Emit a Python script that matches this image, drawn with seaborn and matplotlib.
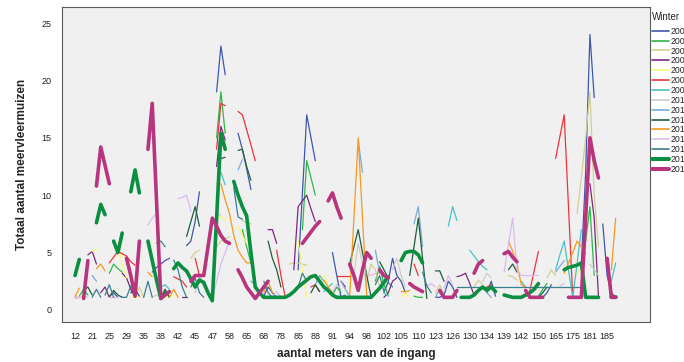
import numpy as np
import pandas as pd
import seaborn as sns
import matplotlib.pyplot as plt
from matplotlib.lines import Line2D

# x axis: SPSS only labels every 4th distance category
tick_labels = [12, 21, 25, 29, 35, 38, 42, 45, 47, 58, 65, 68, 78, 85, 88, 91,
               94, 98, 102, 105, 110, 123, 126, 130, 134, 139, 142, 150, 165, 175, 181, 185]
n_categories = 127

winters = list(range(2003, 2018))

# runs of consecutive non-missing counts per winter: {first category index: [counts]}
w2003 = {8: [1.2, 1.5, 1.1], 18: [3.3, 3.7, 4.0, 4.3, 4.5], 26: [5.6, 6.0, 7.7, 10.3],
         33: [19, 23, 20.5], 38: [15.4, 14.0, 12.3, 10.5], 44: [1.2, 2.0, 1.5, 1.1],
         52: [3.5, 10.2, 17, 15, 13], 60: [5, 3, 1.1], 72: [1.5, 2.5, 4.5, 3, 2.5, 1.5],
         84: [1.1, 1.1, 1.3, 2.5, 2.0, 1.1], 96: [1.5, 2.5, 1.2], 108: [1.1, 1.1, 1.5, 2.2],
         118: [4, 12, 24, 18.5], 123: [7.5, 3, 1.5, 1.1]}
w2004 = {1: [1.2, 1.8, 1.3], 8: [3.2, 4.0, 3.6, 3.3], 33: [15, 19, 15.4], 39: [7.0, 5.5, 4.1],
         53: [7, 13, 11.5, 10], 60: [1.3, 2.0, 1.5], 70: [2.5, 3.8, 2.2, 1.3],
         79: [1.2, 1.1, 1.1], 90: [1.1, 1.1, 1.2], 108: [1.2, 1.8, 2.3], 119: [6, 9, 3]}
w2005 = {14: [1.2, 2.0, 1.1], 27: [4.5, 5.0, 5.2], 33: [5.5, 6.0, 6.2, 6.4], 39: [7.8, 7.6, 7.5],
         50: [4.0, 4.1, 4.1, 4.0, 3.9], 68: [2.5, 4.0, 3.5, 2.0], 84: [1.5, 2.2, 1.3],
         93: [2.0, 2.6, 2.2], 101: [3.0, 2.9, 2.6], 110: [2.8, 3.5, 3.0],
         117: [8.4, 11.5, 15, 19, 10, 5.5]}
w2006 = {3: [4.8, 5.1, 4.0], 6: [1.5, 2.0, 1.1], 11: [3.2, 2.8, 1.8, 1.1], 25: [1.1, 1.1],
         33: [12.5, 16, 14.8], 45: [7.0, 7.0, 5.8], 51: [3.5, 9, 9.5, 10, 8.8, 7.7],
         62: [2.5, 2.0], 72: [1.1, 1.5, 2.5, 2.8], 89: [2.9, 3.0, 3.2, 2.3, 1.3],
         104: [1.1, 1.2], 120: [11, 8, 1.1]}
w2007 = {4: [5.1, 5.3], 10: [6.0, 3.9, 2.8], 13: [1.1, 1.1, 1.1], 21: [1.1, 1.1, 1.3],
         33: [8.0, 8.2, 7.8], 38: [7.3, 6.5, 5.8], 52: [6, 3.5, 1.1], 57: [2.5, 3.0, 2.2],
         76: [1.1, 1.5, 1.1], 104: [1.1, 1.2], 117: [3, 4]}
w2008 = {0: [1.1, 1.1], 8: [4.1, 4.6, 5.1, 4.9, 4.7, 4.2, 3.9], 23: [2.9, 2.7, 2.5, 2.0],
         28: [4.5, 3.0], 33: [14, 18, 17.8], 38: [17.3, 17, 15.7, 14.4, 13], 47: [5.2, 3.0, 1.1],
         55: [2.0, 2.2, 1.6], 61: [3, 3, 3, 3], 79: [4, 3], 96: [2.0, 2.2], 106: [1.7, 3.4, 5.1],
         112: [13.2, 15.1, 17, 9, 1.1]}
w2009 = {20: [2.0, 2.2, 1.8], 34: [12, 10.9], 41: [2.5, 2.2, 1.5], 58: [1.6, 2.0, 2.3],
         72: [1.5, 1.2], 87: [7.3, 9, 7.8], 92: [5.2, 4.7, 4.2, 3.8, 3.5], 104: [2.5, 2.0],
         112: [3.5, 4.8, 6, 3.5, 1.1, 4, 7], 125: [2.5, 4.1]}
w2010 = {0: [1.1, 1.1, 1.2, 1.1], 18: [1.1, 1.3, 1.1], 28: [1.5, 3, 2], 33: [8.5, 8.2],
         47: [1.1, 1.1, 1.1], 65: [3, 5.8, 4, 2], 74: [3.5, 4.5, 3.0, 2.0], 95: [2.5, 3.2, 2.8],
         106: [1.2, 1.1], 120: [4, 3.5, 3]}
w2011 = {4: [3.0, 2.5], 20: [1.1, 1.6, 1.1], 38: [12.2, 13.1], 56: [2.2, 3.0, 2.5],
         62: [2.5, 1.8, 1.2], 66: [14.8, 12], 70: [5.2, 3.2], 79: [7.5, 9, 5.5],
         84: [1.1, 1.8, 1.3], 96: [1.5, 1.1], 112: [3.3, 3.8, 4.3]}
w2012 = {2: [1.7, 2.0, 1.3], 8: [1.1, 1.7, 1.3, 1.1], 13: [1.5, 1.8, 1.2], 20: [1.1, 1.8, 1.1],
         26: [6.4, 7.7, 9, 7.3], 34: [13.2, 13.3], 38: [13.9, 14, 12.5, 11.3],
         45: [6.0, 4.5, 3.5, 2.0], 55: [1.5, 2.2, 1.6], 64: [4, 5.5, 7, 5, 3, 1.1],
         71: [4.2, 3.5, 2.8], 78: [3, 5.5, 8, 4.5, 1], 84: [3.4, 3.4, 2.5], 101: [3.5, 4.0, 3.3],
         108: [1.1, 1.5, 2.0]}
w2013 = {0: [1.15, 1.9], 5: [3.6, 4.0, 3.4], 17: [3.3, 2.9], 22: [1.1, 1.8, 1.1],
         34: [11, 9.6, 8.4, 6.5, 5.2, 4.6, 4.1, 4.1], 44: [1.5, 2.5, 1.5], 58: [2.6, 2.0, 1.5, 1.1],
         64: [1.1, 8, 15, 8, 1.1], 76: [1.6, 1.6, 1.7], 90: [1.1, 1.1, 1.1],
         101: [6, 5.1, 4, 2.2, 2], 114: [3.2, 4.1, 5.0, 6.0, 5.5, 4.9], 125: [3.5, 8]}
w2014 = {0: [1.0, 1.1], 8: [1.1, 1.1, 1.1], 17: [7.4, 8.0, 8.4], 24: [9.7, 9.8, 10, 8.6],
         32: [1, 2.5, 4, 5, 6], 46: [1.2, 1.6, 1.1], 60: [1.6, 2.2, 1.8], 68: [3.2, 3.0, 3.2],
         82: [2.1, 2.3, 2.0], 86: [1.9, 3, 2.2], 92: [1.1, 1.2],
         100: [3.3, 5.7, 8, 3.5, 3, 3, 3, 3, 3], 113: [2.1, 2.3]}
w2015 = {4: [1.1, 1.8, 1.1], 7: [1.3, 2.2, 1.1], 11: [1.1, 1.1, 2.1, 1.1], 16: [1.1, 2.5, 1.1],
         19: [5.8, 6.0, 5.5], 23: [4.35, 3.5, 2.0, 1.1], 27: [2.0, 2.8, 1.5, 1.1],
         37: [10.7, 8.1, 7.9], 44: [2.5, 1.5, 1.1], 52: [2.0, 3.2, 2.5], 60: [1.4, 1.1, 1.1, 1.3],
         70: [2.2, 3.0, 1.6, 2.4, 2.0], 81: [3.3, 2.1, 1.5],
         89: [2, 2, 2, 2, 2, 2, 2, 2, 2, 2, 2, 2, 2, 2, 2, 2, 2, 2, 2, 2, 2, 2, 2, 2, 2, 2, 2, 2, 2, 2]}
w2016 = {0: [3.0, 4.4], 5: [7.6, 9.2, 8.3], 9: [6.0, 5.0, 6.7], 13: [10.3, 12.2, 10.2],
         17: [6.0, 4.3, 2.6, 1.0, 1.5],
         23: [3.6, 4.1, 3.7, 3.4, 2.7, 2.0, 2.6, 2.4, 1.5, 0.8, 8.0, 15.4, 14.0],
         37: [11.2, 10, 9, 8.2, 5, 2, 1.5, 1.1, 1.1, 1.1, 1.1, 1.1, 1.1, 1.3, 1.6, 2, 2.3, 2.6,
              2.9, 3, 2.5, 2, 1.7, 1.3, 1.1, 1.1, 1.1, 1.1, 1.1, 1.1, 1.1, 1.1, 1.1, 1.5, 1.9, 2.4, 2.9],
         76: [4.3, 5.0, 5.1, 5.1, 4.8, 4.1],
         90: [1.1, 1.1, 1.1, 1.3, 1.7, 2.0, 1.7, 2.0, 1.6],
         100: [1.3, 1.2, 1.1, 1.1, 1.1, 1.3, 1.5, 1.8, 2.3],
         114: [3.5, 3.7, 3.8, 3.9, 4.1, 1.1, 1.1, 1.1, 1.1], 125: [1.1, 1.1]}
w2017 = {2: [1.0, 4.3], 5: [10.8, 14.2, 12.6, 11.0], 12: [4.5, 3.0, 1.2, 6.0],
         17: [14, 18, 9.5, 1.0, 1.3, 1.6], 27: [2.5, 3, 3, 3, 5.5, 8, 7.3, 6.5, 6.0, 5.8],
         38: [3.5, 2.8, 2.0, 1.5, 1.0, 1.5, 2.0, 2.5], 53: [5.8, 6.3, 6.8, 7.3, 7.7],
         59: [9.5, 10.2, 9.0, 8.0], 64: [4, 3, 1.7, 3.5, 5, 4.5], 71: [3.5, 3.0, 2.8],
         78: [2.3, 2.0, 1.8, 1.6], 85: [1.7, 1.1, 1.1, 1.1, 1.7], 93: [3.2, 4.0, 4.3],
         100: [4.9, 5.1, 4.6, 4.2], 105: [1.7, 1.1, 1.1, 1.1, 1.1],
         115: [1.1, 1.1, 1.1, 1.1, 8, 15, 13, 11.5], 124: [4.5, 1.1, 1.1]}

series = {2003: w2003, 2004: w2004, 2005: w2005, 2006: w2006, 2007: w2007, 2008: w2008,
          2009: w2009, 2010: w2010, 2011: w2011, 2012: w2012, 2013: w2013, 2014: w2014,
          2015: w2015, 2016: w2016, 2017: w2017}

colors = {2003: "#3e58ac", 2004: "#2eb848", 2005: "#d3ce97", 2006: "#7c287d", 2007: "#fbf873",
          2008: "#ef3338", 2009: "#48c2c5", 2010: "#cccccc", 2011: "#7aaad5", 2012: "#1f5f3a",
          2013: "#f8981d", 2014: "#ddbaf1", 2015: "#3a7f8f", 2016: "#0a8f41", 2017: "#b8347c"}
widths = {w: 0.9 for w in winters}
widths[2016] = 2.6
widths[2017] = 2.6


def main():
    rows = []
    seg = 0
    for w, runs in series.items():
        for start, vals in runs.items():
            for k, v in enumerate(vals):
                rows.append({"pos": start + k, "count": v, "winter": w, "seg": seg})
            seg += 1
    df = pd.DataFrame(rows)

    sns.set_style("white")
    plt.rcParams["font.family"] = ["Liberation Sans", "DejaVu Sans"]

    fig = plt.figure(figsize=(6.84, 3.62), dpi=100)
    ax = fig.add_axes([62 / 684, 40 / 362, 588 / 684, 315 / 362])
    ax.set_facecolor("#f0f0f0")

    sns.lineplot(data=df, x="pos", y="count", hue="winter", size="winter", sizes=widths,
                 palette=colors, units="seg", estimator=None, legend=False, ax=ax)

    ax.set_xlim(-3.03, 134.0)
    ax.set_ylim(-1.05, 26.4)
    ax.set_xticks(range(0, 4 * len(tick_labels), 4))
    ax.set_xticklabels([str(t) for t in tick_labels])
    ax.set_yticks([0, 5, 10, 15, 20, 25])
    ax.tick_params(axis="both", direction="out", length=4.5, width=0.7, color="#555555",
                   labelsize=6.5, labelcolor="#222222", pad=3)
    for s in ax.spines.values():
        s.set_color("#5a5a5a")
        s.set_linewidth(0.8)

    ax.set_xlabel("aantal meters van de ingang", fontsize=8.5, fontweight="bold", labelpad=5)
    ax.set_ylabel("Totaal aantal meervleermuizen", fontsize=8.5, fontweight="bold", labelpad=10)

    fig.text(652 / 684, 1 - 17 / 362, "Winter", fontsize=7, va="center", ha="left")
    handles = [Line2D([0], [0], color=colors[w], lw=widths[w] + 0.3) for w in winters]
    fig.legend(handles, [str(w) for w in winters], loc="upper left",
               bbox_to_anchor=(650 / 684, 1 - 25 / 362), frameon=False, fontsize=6.3,
               handlelength=2.0, handletextpad=0.2, labelspacing=0.1,
               borderaxespad=0, borderpad=0.2)

    fig.savefig("out.png", dpi=100)


if __name__ == "__main__":
    main()
